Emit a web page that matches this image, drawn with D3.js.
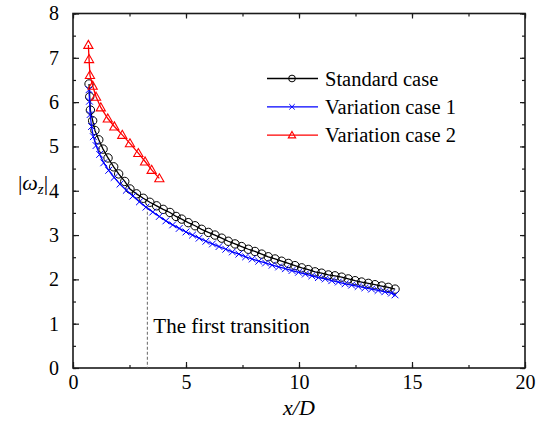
<!DOCTYPE html>
<html>
<head>
<meta charset="utf-8">
<script src="https://cdn.jsdelivr.net/npm/d3@7"></script>
</head>
<body style="margin:0;background:#fff">
<svg id="chart" width="537" height="425"></svg>
<script>
// Vorticity magnitude |ω_z| along the wake, x/D
const standardX = [0.71,0.74,0.77,0.87,0.97,1.14,1.33,1.55,1.80,2.02,2.29,2.52,2.81,3.11,3.40,3.70,3.99,4.29,4.56,4.81,5.10,5.40,5.69,5.99,6.28,6.58,6.87,7.17,7.46,7.76,8.05,8.35,8.64,8.94,9.23,9.53,9.82,10.12,10.41,10.71,11.00,11.30,11.59,11.89,12.18,12.48,12.77,13.07,13.36,13.66,13.95,14.25];
const standardY = [6.41,6.12,5.82,5.58,5.36,5.15,4.94,4.74,4.54,4.38,4.21,4.04,3.93,3.83,3.74,3.66,3.58,3.51,3.42,3.36,3.28,3.21,3.13,3.06,3.00,2.93,2.86,2.80,2.74,2.68,2.63,2.57,2.51,2.46,2.41,2.36,2.31,2.26,2.22,2.17,2.14,2.10,2.08,2.05,2.01,1.97,1.94,1.91,1.88,1.85,1.82,1.78];

const case1X = [0.71,0.73,0.76,0.82,0.90,1.02,1.18,1.36,1.58,1.82,2.08,2.36,2.65,2.94,3.23,3.53,3.82,4.11,4.41,4.70,5.00,5.29,5.58,5.88,6.17,6.46,6.76,7.05,7.34,7.64,7.93,8.22,8.52,8.81,9.10,9.40,9.69,9.98,10.28,10.57,10.86,11.16,11.45,11.74,12.04,12.33,12.62,12.92,13.21,13.50,13.80,14.09,14.25];
const case1Y = [6.28,6.02,5.72,5.45,5.22,5.02,4.82,4.63,4.46,4.30,4.15,4.01,3.88,3.75,3.63,3.52,3.42,3.32,3.23,3.15,3.07,3.00,2.93,2.86,2.80,2.74,2.68,2.62,2.57,2.51,2.46,2.41,2.37,2.32,2.28,2.24,2.20,2.16,2.12,2.08,2.04,2.01,1.97,1.94,1.90,1.87,1.84,1.81,1.78,1.75,1.72,1.69,1.65];

const case2X = [0.68,0.71,0.75,0.87,1.02,1.23,1.54,1.83,2.18,2.52,2.89,3.19,3.48,3.82];
const case2Y = [7.29,6.97,6.61,6.37,6.12,5.88,5.63,5.45,5.26,5.07,4.85,4.66,4.47,4.28];

const legendNames = ["Standard case", "Variation case 1", "Variation case 2"];
const xTicks = [0, 5, 10, 15, 20];
const yTicks = [0, 1, 2, 3, 4, 5, 6, 7, 8];
const transitionX = 3.29;

const serif = "'Liberation Serif'";
const svg = d3.select("#chart");
const plotL = 73, plotR = 525, plotT = 13.5, plotB = 368;

const x = d3.scaleLinear().domain([0, 20]).range([plotL, plotR]);
const y = d3.scaleLinear().domain([0, 8]).range([plotB, plotT]);

const frameColor = "#1a1a1a";

// Axes with inward ticks (negative tick size), minor ticks at half steps
const xMinor = d3.range(0, 20.01, 2.5);
const yMinor = d3.range(0, 8.01, 0.5);

function axisGroup(axis, transform) {
  const g = svg.append("g").attr("transform", transform).call(axis);
  g.select(".domain").remove();
  g.attr("font-family", null).attr("font-size", null);
  g.selectAll("line").attr("stroke", frameColor).attr("stroke-width", 1.2);
  g.selectAll("text").style("font-family", serif).style("font-size", "20px").attr("fill", "#000");
  return g;
}

// bottom
axisGroup(d3.axisBottom(x).tickValues(xMinor).tickSize(-3).tickFormat(""), `translate(0,${plotB})`);
axisGroup(d3.axisBottom(x).tickValues(xTicks).tickSize(-6).tickPadding(7).tickFormat(d3.format("d")), `translate(0,${plotB})`);
// top
axisGroup(d3.axisTop(x).tickValues(xMinor).tickSize(-3).tickFormat(""), `translate(0,${plotT})`);
axisGroup(d3.axisTop(x).tickValues(xTicks).tickSize(-5).tickFormat(""), `translate(0,${plotT})`);
// left
axisGroup(d3.axisLeft(y).tickValues(yMinor).tickSize(-3).tickFormat(""), `translate(${plotL},0)`);
axisGroup(d3.axisLeft(y).tickValues(yTicks).tickSize(-6).tickPadding(14).tickFormat(d3.format("d")), `translate(${plotL},0)`);
// right
axisGroup(d3.axisRight(y).tickValues(yMinor).tickSize(-3).tickFormat(""), `translate(${plotR},0)`);
axisGroup(d3.axisRight(y).tickValues(yTicks).tickSize(-5).tickFormat(""), `translate(${plotR},0)`);

// frame
svg.append("rect")
  .attr("x", plotL).attr("y", plotT)
  .attr("width", plotR - plotL).attr("height", plotB - plotT)
  .attr("fill", "none").attr("stroke", frameColor).attr("stroke-width", 1.6);

// transition marker
const standardAt = d3.scaleLinear().domain(standardX).range(standardY);
svg.append("line")
  .attr("x1", x(transitionX)).attr("x2", x(transitionX))
  .attr("y1", y(standardAt(transitionX)) + 6).attr("y2", plotB)
  .attr("stroke", "#666").attr("stroke-width", 1).attr("stroke-dasharray", "3,2");

svg.append("text")
  .attr("x", x(transitionX) + 6).attr("y", 333)
  .style("font-family", serif).style("font-size", "21px").attr("fill", "#000")
  .text("The first transition");

// series
const series = [
  { name: legendNames[0], xs: standardX, ys: standardY, color: "#000000", shape: "circle" },
  { name: legendNames[1], xs: case1X, ys: case1Y, color: "#0000ff", shape: "cross" },
  { name: legendNames[2], xs: case2X, ys: case2Y, color: "#ff0000", shape: "triangle" }
];

const line = d3.line().x(d => x(d[0])).y(d => y(d[1]));

function drawMarker(g, shape, cx, cy, color, s) {
  if (shape === "circle") {
    g.append("circle").attr("cx", cx).attr("cy", cy).attr("r", 4.2 * s)
      .attr("fill", "none").attr("stroke", color).attr("stroke-width", 1);
  } else if (shape === "cross") {
    const r = 3.4 * s;
    g.append("path")
      .attr("d", `M${cx - r},${cy - r}L${cx + r},${cy + r}M${cx - r},${cy + r}L${cx + r},${cy - r}`)
      .attr("stroke", color).attr("stroke-width", 1).attr("fill", "none");
  } else {
    const r = 4.6 * s;
    g.append("path")
      .attr("d", `M${cx},${cy - r}L${cx + r},${cy + r * 0.75}L${cx - r},${cy + r * 0.75}Z`)
      .attr("stroke", color).attr("stroke-width", 1.1).attr("fill", "none");
  }
}

series.forEach(s => {
  const pts = s.xs.map((v, i) => [v, s.ys[i]]);
  const g = svg.append("g");
  g.append("path").datum(pts).attr("d", line)
    .attr("fill", "none").attr("stroke", s.color).attr("stroke-width", 1.3);
  pts.forEach(p => drawMarker(g, s.shape, x(p[0]), y(p[1]), s.color, 1));
});

// legend
const legend = svg.append("g");
series.forEach((s, i) => {
  const ly = 78.5 + i * 28.3;
  legend.append("line").attr("x1", 267).attr("x2", 318).attr("y1", ly).attr("y2", ly)
    .attr("stroke", s.color).attr("stroke-width", 1.3);
  drawMarker(legend, s.shape, 292, ly, s.color, 0.8);
  legend.append("text").attr("x", 325).attr("y", ly + 7)
    .style("font-family", serif).style("font-size", "20.5px").attr("fill", "#000")
    .text(s.name);
});

// axis titles
svg.append("text").attr("x", 299).attr("y", 415)
  .attr("text-anchor", "middle")
  .style("font-family", serif).style("font-size", "22px").style("font-style", "italic")
  .text("x/D");

const yt = svg.append("text").attr("x", 33).attr("y", 190)
  .attr("text-anchor", "middle")
  .style("font-family", serif).style("font-size", "22px");
yt.append("tspan").text("|");
yt.append("tspan").style("font-style", "italic").text("ω");
yt.append("tspan").style("font-style", "italic").style("font-size", "15px").attr("dy", 4).text("z");
yt.append("tspan").attr("dy", -4).text("|");
</script>
</body>
</html>
